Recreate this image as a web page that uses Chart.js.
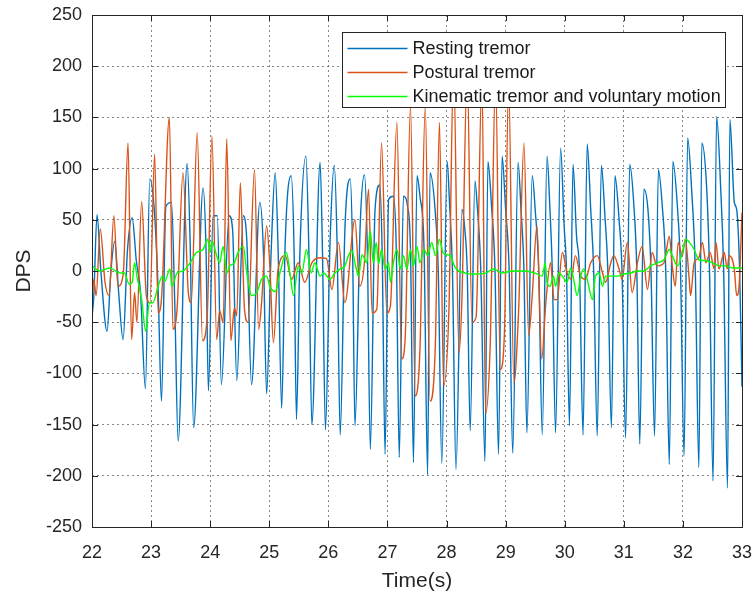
<!DOCTYPE html>
<html>
<head>
<meta charset="utf-8">
<script src="https://cdn.jsdelivr.net/npm/chart.js@4.4.1/dist/chart.umd.min.js"></script>
<style>
  html, body { margin: 0; padding: 0; background: #fff; }
  canvas { display: block; }
</style>
</head>
<body>
<canvas id="tremorChart" width="753" height="594"></canvas>
<script>
const seriesNames = [
  "Resting tremor",
  "Postural tremor",
  "Kinematic tremor and voluntary motion",
];
const xTicks = [22, 23, 24, 25, 26, 27, 28, 29, 30, 31, 32, 33];
const yTicks = [-250, -200, -150, -100, -50, 0, 50, 100, 150, 200, 250];

// Resting tremor (blue): time (s) / DPS
const restingT = [
  22.00, 22.03, 22.085, 22.15, 22.255, 22.32, 22.385, 22.45, 22.526, 22.60,
  22.68, 22.75, 22.82, 22.904, 22.978, 23.06, 23.12, 23.176, 23.25, 23.345,
  23.40, 23.458, 23.61, 23.66, 23.72, 23.88, 23.93, 23.97, 24.05, 24.12,
  24.19, 24.32, 24.38, 24.45, 24.56, 24.62, 24.70, 24.84, 24.90, 24.955,
  25.03, 25.10, 25.15, 25.21, 25.27, 25.37, 25.42, 25.46, 25.52, 25.62,
  25.67, 25.72, 25.86, 25.90, 25.95, 26.03, 26.10, 26.15, 26.20, 26.28,
  26.37, 26.41, 26.45, 26.54, 26.61, 26.66, 26.71, 26.79, 26.87, 26.91,
  26.96, 27.02, 27.10, 27.15, 27.20, 27.27, 27.34, 27.39, 27.44, 27.50,
  27.55, 27.62, 27.68, 27.72, 27.81, 27.86, 27.92, 28.01, 28.05, 28.10,
  28.16, 28.26, 28.31, 28.35, 28.40, 28.48, 28.52, 28.58, 28.65, 28.70,
  28.76, 28.82, 28.88, 28.94, 29.00, 29.06, 29.12, 29.21, 29.26, 29.31,
  29.36, 29.45, 29.50, 29.56, 29.62, 29.70, 29.75, 29.79, 29.845, 29.93,
  29.99, 30.03, 30.08, 30.14, 30.20, 30.25, 30.31, 30.38, 30.44, 30.49,
  30.55, 30.62, 30.68, 30.73, 30.79, 30.85, 30.92, 30.97, 31.03, 31.10,
  31.17, 31.22, 31.27, 31.34, 31.41, 31.46, 31.52, 31.585, 31.65, 31.71,
  31.77, 31.83, 31.91, 31.96, 32.02, 32.08, 32.15, 32.21, 32.27, 32.32,
  32.40, 32.45, 32.51, 32.57, 32.64, 32.69, 32.755, 32.795, 32.87, 32.91,
  32.96, 33.00,
];
const restingV = [
  -45, -25, 55, 0, -59, 0, 29, -20, -67, 20,
  52, 10, -20, -115, 90, 55, -20, -127, 63, 67,
  -30, -166, 105, 30, -153, 81, 20, -117, 54, 54,
  -111, 54, 40, -107, 54, 30, -111, 67, 20, -120,
  16, 96, 20, -134, 28, 93, 20, -145, 21, 112,
  20, -150, 106, 20, -155, 31, 103, 20, -160, 41,
  90, 20, -151, 47, 94, 20, -174, 60, 84, 20,
  -179, 70, 73, 20, -182, 73, 63, 20, -187, 93,
  73, 20, -199, 96, 57, 0, -188, 107, 67, 0,
  -194, 60, 40, 0, -156, 88, 63, 0, -186, 107,
  65, 0, -179, 112, 60, 0, -178, 106, 60, 0,
  -158, 93, 60, 0, -160, 112, 60, 0, -158, 120,
  44, 0, -151, 104, 34, 0, -160, 124, 60, 0,
  -161, 103, 54, 0, -153, 93, 50, 0, -163, 104,
  64, 0, -169, 80, 59, 0, -161, 99, 64, 0,
  -189, 107, 60, 0, -181, 130, 77, 0, -192, 125,
  83, 0, -205, 151, 80, 0, -212, 148, 67, 60,
  0, -113,
];

// Postural tremor (orange)
const posturalT = [
  22.00, 22.03, 22.07, 22.14, 22.22, 22.29, 22.37, 22.44, 22.53, 22.61,
  22.67, 22.72, 22.76, 22.84, 22.92, 22.98, 23.06, 23.12, 23.18, 23.31,
  23.37, 23.44, 23.54, 23.63, 23.68, 23.78, 23.87, 23.95, 24.03, 24.11,
  24.16, 24.22, 24.28, 24.35, 24.41, 24.45, 24.51, 24.58, 24.64, 24.75,
  24.82, 24.87, 24.955, 25.01, 25.07, 25.15, 25.27, 25.38, 25.49, 25.60,
  25.72, 25.86, 25.97, 26.06, 26.17, 26.28, 26.45, 26.53, 26.61, 26.68,
  26.74, 26.82, 26.90, 26.99, 27.05, 27.16, 27.24, 27.30, 27.39, 27.47,
  27.55, 27.64, 27.72, 27.81, 27.88, 27.95, 28.04, 28.12, 28.21, 28.26,
  28.35, 28.43, 28.50, 28.60, 28.66, 28.74, 28.83, 28.91, 28.98, 29.05,
  29.14, 29.22, 29.31, 29.39, 29.45, 29.53, 29.61, 29.68, 29.76, 29.82,
  29.87, 29.96, 30.04, 30.11, 30.18, 30.27, 30.35, 30.44, 30.55, 30.64,
  30.69, 30.78, 30.83, 30.92, 30.97, 31.06, 31.14, 31.23, 31.31, 31.40,
  31.48, 31.56, 31.68, 31.77, 31.82, 31.87, 31.92, 31.99, 32.04, 32.11,
  32.13, 32.19, 32.27, 32.33, 32.39, 32.46, 32.53, 32.56, 32.61, 32.70,
  32.75, 32.78, 32.87, 32.91, 32.95, 33.00,
];
const posturalV = [
  -28, -8, -24, 41, -11, -24, 54, -15, -2, 125,
  -67, -21, -50, 68, -24, -31, 114, -41, -24, 150,
  -57, -37, 96, -21, -31, 135, -68, -44, 132, -67,
  -39, -50, 129, -68, -36, -44, 86, -37, -50, 99,
  -57, -31, 44, 5, -70, 2, 15, -8, 8, -11,
  8, 13, 12, -18, 28, -31, 50, -15, 8, 80,
  -41, -37, 125, -41, -34, 145, -86, -66, 161, -122,
  -76, 161, -127, -73, 145, -112, -38, 200, -80, -28,
  195, -50, -45, 190, -139, -70, 190, -96, -60, 185,
  -109, -38, 125, -63, -24, 44, -86, -31, 8, -28,
  -28, 18, -2, -8, 15, -5, -8, 8, 15, -2,
  -11, 8, 15, 2, -8, 28, -21, 8, 24, -18,
  18, 5, 8, 34, 5, -15, 28, 15, 31, -11,
  -24, 8, 13, 28, 8, 18, 2, 28, 2, 18,
  2, 15, 2, -24, -15, 57,
];

// Kinematic tremor and voluntary motion (green)
const kinematicT = [
  22.00, 22.13, 22.30, 22.47, 22.55, 22.63, 22.68, 22.72, 22.76, 22.84,
  22.91, 22.97, 23.03, 23.12, 23.19, 23.23, 23.32, 23.35, 23.44, 23.54,
  23.66, 23.77, 23.88, 23.96, 24.00, 24.03, 24.11, 24.16, 24.22, 24.28,
  24.33, 24.41, 24.47, 24.56, 24.62, 24.70, 24.79, 24.87, 24.955, 25.01,
  25.10, 25.18, 25.29, 25.35, 25.41, 25.49, 25.55, 25.63, 25.71, 25.77,
  25.86, 25.92, 26.03, 26.11, 26.20, 26.28, 26.34, 26.40, 26.45, 26.51,
  26.57, 26.65, 26.71, 26.76, 26.81, 26.85, 26.90, 26.96, 27.02, 27.05,
  27.10, 27.16, 27.22, 27.27, 27.33, 27.39, 27.44, 27.50, 27.55, 27.62,
  27.68, 27.75, 27.81, 27.88, 27.94, 28.00, 28.06, 28.15, 28.32, 28.49,
  28.66, 28.80, 28.94, 29.11, 29.28, 29.50, 29.62, 29.67, 29.70, 29.75,
  29.81, 29.845, 29.90, 29.96, 30.04, 30.10, 30.16, 30.21, 30.27, 30.32,
  30.38, 30.47, 30.52, 30.58, 30.64, 30.69, 30.78, 30.89, 31.00, 31.12,
  31.23, 31.34, 31.45, 31.57, 31.68, 31.77, 31.82, 31.91, 31.99, 32.05,
  32.11, 32.19, 32.27, 32.39, 32.50, 32.61, 32.73, 32.84, 33.00,
];
const kinematicV = [
  5, 0, 3, -2, -2, -13, -11, 8, -5, -28,
  -59, -31, -31, -15, -5, -10, 2, -15, -2, 0,
  8, 18, 21, 31, 18, 29, 15, 8, 24, -2,
  5, 8, 18, 24, -2, -24, -21, -8, -5, -15,
  -20, -2, 18, -2, -24, 5, -2, 21, -2, 8,
  -5, -2, -8, -2, 2, 5, 15, 20, 8, -5,
  16, 8, 39, 8, 28, 7, 21, 2, 8, -11,
  8, 21, 2, 15, 2, 21, 5, 24, 8, 21,
  15, 28, 15, 31, 18, 16, 15, 3, -2, -3,
  -2, 2, -2, 0, 0, -2, -5, 8, -11, -15,
  -5, -15, -2, -5, -11, 3, -11, -24, -5, 2,
  -8, -28, -5, -2, -15, -5, -5, -5, -3, -2,
  0, 0, 5, 8, 11, 21, 15, 5, 18, 31,
  28, 21, 11, 10, 8, 5, 5, 3, 3,
];

const seriesColors = ["#0072BD", "#D95319", "#00FF00"];
const fontFamily = '"Liberation Sans", Arial, Helvetica, sans-serif';
const axisColor = "#262626";

const toPoints = (ts, vs) => ts.map((t, i) => ({ x: t, y: vs[i] }));

// box, inward ticks and in-axes legend, drawn over the lines like MATLAB does
const matlabFrame = {
  id: "matlabFrame",
  afterDatasetsDraw(chart) {
    const { ctx, chartArea: a, scales } = chart;
    ctx.save();
    ctx.strokeStyle = axisColor;
    ctx.lineWidth = 1;
    ctx.beginPath();
    scales.x.ticks.forEach((t) => {
      const px = Math.round(scales.x.getPixelForValue(t.value)) + 0.5;
      ctx.moveTo(px, a.bottom);
      ctx.lineTo(px, a.bottom - 6);
      ctx.moveTo(px, a.top);
      ctx.lineTo(px, a.top + 6);
    });
    scales.y.ticks.forEach((t) => {
      const py = Math.round(scales.y.getPixelForValue(t.value)) + 0.5;
      ctx.moveTo(a.left, py);
      ctx.lineTo(a.left + 6, py);
      ctx.moveTo(a.right, py);
      ctx.lineTo(a.right - 6, py);
    });
    ctx.stroke();
    ctx.strokeRect(
      Math.round(a.left) + 0.5,
      Math.round(a.top) + 0.5,
      Math.round(a.right - a.left),
      Math.round(a.bottom - a.top)
    );

    // legend
    const lx = Math.round(a.left + 250) + 0.5;
    const ly = Math.round(a.top + 17) + 0.5;
    const lw = 383;
    const lh = 75;
    ctx.fillStyle = "#fff";
    ctx.fillRect(lx, ly, lw, lh);
    ctx.strokeRect(lx, ly, lw, lh);
    ctx.font = "18px " + fontFamily;
    ctx.textBaseline = "middle";
    ctx.textAlign = "left";
    seriesNames.forEach((name, i) => {
      const ry = ly + 16 + i * 24;
      ctx.strokeStyle = seriesColors[i];
      ctx.lineWidth = 1.5;
      ctx.beginPath();
      ctx.moveTo(lx + 5, ry);
      ctx.lineTo(lx + 65, ry);
      ctx.stroke();
      ctx.fillStyle = "#1a1a1a";
      ctx.fillText(name, lx + 70, ry + 1);
    });
    ctx.restore();
  },
};

const ctx = document.getElementById("tremorChart").getContext("2d");
const tremorChart = new Chart(ctx, {
  type: "line",
  data: {
    datasets: [
      {
        label: seriesNames[0],
        data: toPoints(restingT, restingV),
        borderColor: seriesColors[0],
        order: 3,
      },
      {
        label: seriesNames[1],
        data: toPoints(posturalT, posturalV),
        borderColor: seriesColors[1],
        order: 2,
      },
      {
        label: seriesNames[2],
        data: toPoints(kinematicT, kinematicV),
        borderColor: seriesColors[2],
        order: 1,
      },
    ],
  },
  options: {
    responsive: false,
    animation: false,
    devicePixelRatio: 1,
    parsing: false,
    layout: { padding: { top: 15, right: 11, left: 0, bottom: 0 } },
    elements: {
      line: { borderWidth: 1.4, cubicInterpolationMode: "monotone", fill: false },
      point: { radius: 0, hoverRadius: 0 },
    },
    plugins: {
      legend: { display: false },
      tooltip: { enabled: false },
    },
    scales: {
      x: {
        type: "linear",
        min: xTicks[0],
        max: xTicks[xTicks.length - 1],
        afterBuildTicks: (scale) => {
          scale.ticks = xTicks.map((v) => ({ value: v }));
        },
        afterFit: (scale) => {
          scale.height = 67;
          scale.paddingLeft = 0;
          scale.paddingRight = 0;
        },
        ticks: {
          color: axisColor,
          font: { family: fontFamily, size: 18 },
          padding: 15,
          maxRotation: 0,
          autoSkip: false,
        },
        grid: {
          color: "rgba(38,38,38,0.55)",
          lineWidth: 1,
          drawTicks: false,
        },
        border: { display: false, dash: [2, 3] },
        title: {
          display: true,
          text: "Time(s)",
          color: axisColor,
          font: { family: fontFamily, size: 21 },
          padding: { top: 0, bottom: 0 },
        },
      },
      y: {
        type: "linear",
        min: yTicks[0],
        max: yTicks[yTicks.length - 1],
        afterBuildTicks: (scale) => {
          scale.ticks = yTicks.map((v) => ({ value: v }));
        },
        afterFit: (scale) => {
          scale.width = 92;
          scale.paddingTop = 0;
          scale.paddingBottom = 0;
        },
        ticks: {
          color: axisColor,
          font: { family: fontFamily, size: 18 },
          padding: 10,
        },
        grid: {
          color: "rgba(38,38,38,0.55)",
          lineWidth: 1,
          drawTicks: false,
        },
        border: { display: false, dash: [2, 3] },
        title: {
          display: true,
          text: "DPS",
          color: axisColor,
          font: { family: fontFamily, size: 21 },
          padding: { top: 12, bottom: 0 },
        },
      },
    },
  },
  plugins: [matlabFrame],
});
</script>
</body>
</html>
